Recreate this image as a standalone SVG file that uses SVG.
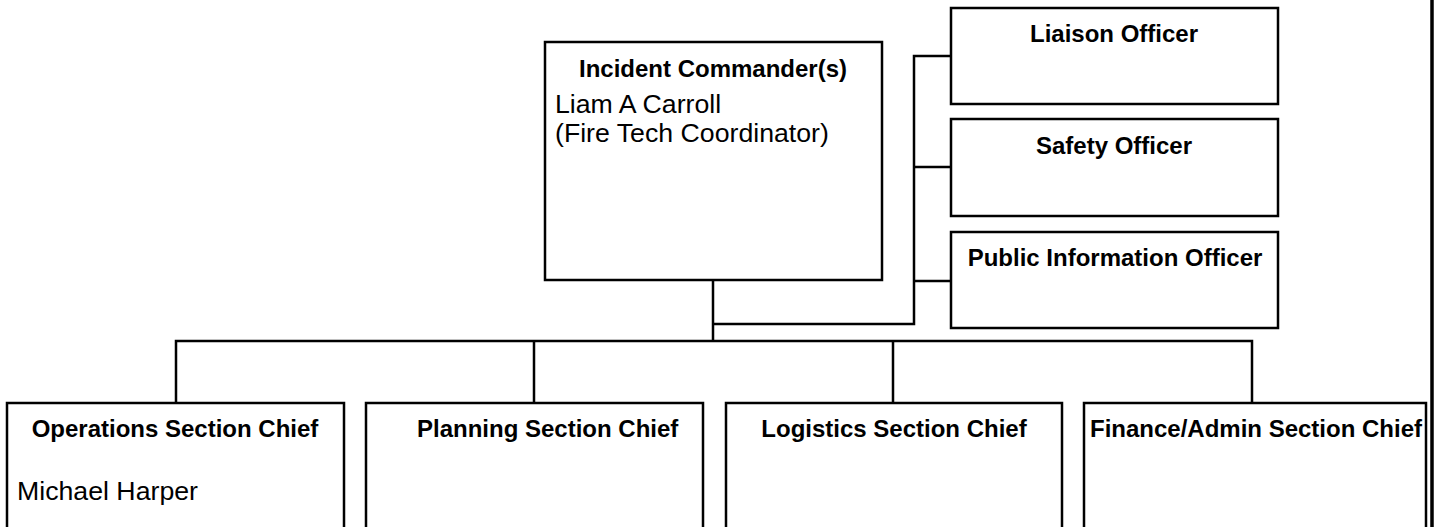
<svg xmlns="http://www.w3.org/2000/svg" width="1437" height="527" viewBox="0 0 1437 527">
<style>
.box{fill:#fff;stroke:#000;stroke-width:2.5}
.ln{fill:none;stroke:#000;stroke-width:2.5}
.t{font-family:"Liberation Sans",Arial,sans-serif;font-weight:bold;font-size:24px;fill:#000}
.c{text-anchor:middle}
.r{font-family:"Liberation Sans",Arial,sans-serif;font-size:26.7px;fill:#000}
</style>
<rect width="1437" height="527" fill="#fff"/>
<g id="connectors">
<path class="ln" d="M713 281V341M176 403V341H1252V403M534 341V403M893 341V403"/>
<path class="ln" d="M713 324H914V56H951M914 167H951M914 281H951"/>
</g>
<g id="ic">
<rect class="box" x="545" y="42" width="337" height="238"/>
<text class="t c" x="713" y="77">Incident Commander(s)</text>
<text class="r" x="555" y="113">Liam A Carroll</text>
<text class="r" x="555" y="142">(Fire Tech Coordinator)</text>
</g>
<g id="liaison">
<rect class="box" x="951" y="8" width="327" height="96"/>
<text class="t c" x="1114" y="42">Liaison Officer</text>
</g>
<g id="safety">
<rect class="box" x="951" y="119" width="327" height="97"/>
<text class="t c" x="1114" y="154">Safety Officer</text>
</g>
<g id="pio">
<rect class="box" x="951" y="232" width="327" height="96"/>
<text class="t c" x="1115" y="266">Public Information Officer</text>
</g>
<g id="operations">
<rect class="box" x="7" y="403" width="337" height="140"/>
<text class="t c" x="175" y="437">Operations Section Chief</text>
<text class="r" x="17" y="500">Michael Harper</text>
</g>
<g id="planning">
<rect class="box" x="366" y="403" width="337" height="140"/>
<text class="t" x="417" y="437">Planning Section Chief</text>
</g>
<g id="logistics">
<rect class="box" x="726" y="403" width="336" height="140"/>
<text class="t c" x="894" y="437">Logistics Section Chief</text>
</g>
<g id="finance">
<rect class="box" x="1084" y="403" width="342" height="140"/>
<text class="t c" x="1256" y="437">Finance/Admin Section Chief</text>
</g>
<line x1="1432" y1="0" x2="1432" y2="527" stroke="#000" stroke-width="3.5"/>
</svg>
